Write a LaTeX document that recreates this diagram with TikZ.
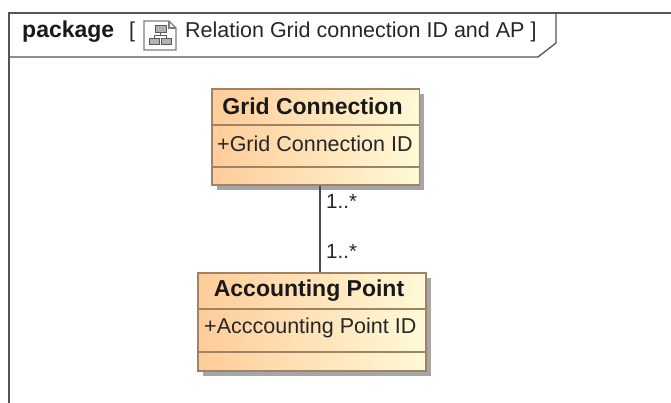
\documentclass[tikz,border=0pt]{standalone}
\usepackage{fontspec}
\setmainfont{Liberation Sans}
\usetikzlibrary{shadows}
\definecolor{classedge}{RGB}{160,130,100}
\definecolor{frameedge}{RGB}{85,85,85}
\definecolor{classL}{RGB}{255,204,153}
\definecolor{classR}{RGB}{255,250,215}
\definecolor{iconedge}{RGB}{125,125,125}
\tikzset{
  classbox/.style={draw=classedge,line width=1.6pt,left color=classL,right color=classR,shading angle=90,
    minimum height=0pt,inner sep=0pt,anchor=north west,
    general shadow={fill=black!35,shadow xshift=5pt,shadow yshift=-5pt}},
  divider/.style={draw=classedge,line width=1.4pt},
  framepen/.style={draw=frameedge,line width=1.3pt},
  assoc/.style={draw=black!70,line width=2pt},
  title/.style={font=\fontsize{23}{26}\selectfont\bfseries,inner sep=0pt,text=black!90},
  body/.style={font=\fontsize{21.5}{24}\selectfont,inner sep=0pt,text=black!85},
  mult/.style={font=\fontsize{20.5}{24}\selectfont,inner sep=0pt,anchor=west,text=black!85},
  iconpen/.style={draw=iconedge,line width=1.2pt},
  iconpart/.style={draw=black!65,line width=0.9pt,fill=black!30}
}
\begin{document}
\begin{tikzpicture}[x=1pt,y=-1pt]
\useasboundingbox (0,0) rectangle (671,403);
\draw[framepen] (9,403) -- (9,13) -- (671,13);
\draw[framepen] (9,57) -- (538,57) -- (556,43) -- (556,13);
\node[title,anchor=base west] (kind) at (22,38) {package};
\node[body,anchor=base west] (open) at (129,38) {[};
\draw[iconpen,fill=white] (144,21) -- (169,21) -- (176,28) -- (176,50) -- (144,50) -- cycle;
\draw[iconpen] (169,21) -- (169,28) -- (176,28);
\draw[iconpart] (155,25) rectangle (166,32);
\draw[iconpart] (149,38) rectangle (159,44);
\draw[iconpart] (161,38) rectangle (171,44);
\draw[draw=black!65,line width=0.9pt] (160.5,32) -- (160.5,35) (154,38) -- (154,35) -- (166,35) -- (166,38);
\node[body,anchor=base west] (dname) at (185,37.5) {Relation Grid connection ID and AP ]};
\node[classbox,minimum width=207.5pt,minimum height=96pt] (gc) at (211,88) {};
\draw[divider] (211,125) -- (418.5,125) (211,167) -- (418.5,167);
\node[title] (gct) at (312.5,106.5) {Grid Connection};
\node[body,anchor=west] (gca) at (217,143.5) {+Grid Connection ID};
\node[classbox,minimum width=228pt,minimum height=98pt] (ap) at (197,272) {};
\draw[divider] (197,309) -- (425,309) (197,352) -- (425,352);
\node[title] (apt) at (309,290.5) {Accounting Point};
\node[body,anchor=west] (apa) at (204,327.5) {+Acccounting Point ID};
\draw[assoc] (gc.south -| 319.5,0) -- (ap.north -| 319.5,0);
\node[mult] (m1) at (326,201) {1..*};
\node[mult] (m2) at (326,251) {1..*};
\end{tikzpicture}
\end{document}
